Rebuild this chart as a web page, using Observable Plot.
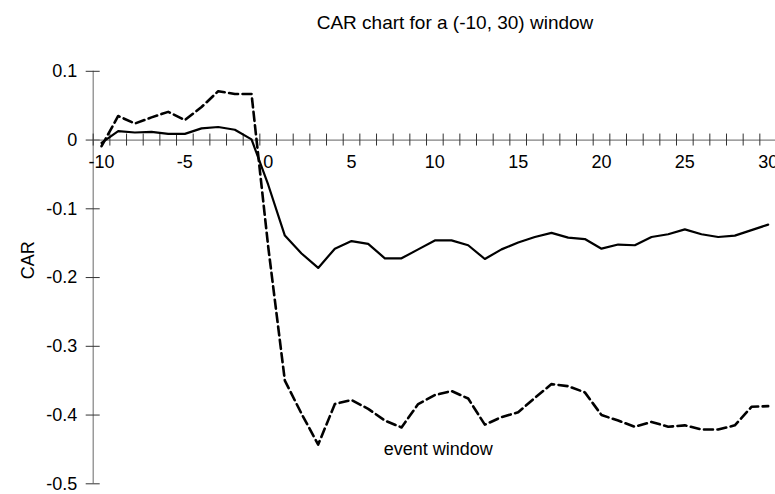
<!DOCTYPE html>
<html>
<head>
<meta charset="utf-8">
<script src="https://cdn.jsdelivr.net/npm/d3@7"></script>
<script src="https://cdn.jsdelivr.net/npm/@observablehq/plot@0.6"></script>
<style>
  html, body { margin: 0; padding: 0; background: #fff; }
  #wrap { width: 775px; height: 494px; position: relative; overflow: hidden; }
  #title { position: relative; height: 45px; }
  #title span {
    position: absolute; left: 455px; top: 12px; transform: translateX(-50%);
    font-family: "Liberation Sans Narrow", "Arial Narrow", "Liberation Sans", Arial, sans-serif;
    font-size: 19px; color: #000; white-space: nowrap;
  }
  svg { display: block; overflow: visible; }
</style>
</head>
<body>
<div id="wrap">
  <div id="title"><span>CAR chart for a (-10, 30) window</span></div>
  <div id="chart"></div>
</div>
<script>
// Event days
const days = d3.range(-10, 31);
// Solid series (CAR)
const solidCAR = [-0.004, 0.013, 0.011, 0.012, 0.009, 0.009, 0.017, 0.019, 0.015, 0.001,
  -0.065, -0.139, -0.165, -0.186, -0.158, -0.147, -0.151, -0.172, -0.172, -0.159,
  -0.146, -0.146, -0.153, -0.173, -0.159, -0.149, -0.141, -0.135, -0.142, -0.144,
  -0.158, -0.152, -0.153, -0.141, -0.137, -0.130, -0.137, -0.141, -0.139, -0.131, -0.123];
// Dashed series (CAR)
const dashedCAR = [-0.009, 0.035, 0.024, 0.033, 0.041, 0.029, 0.048, 0.071, 0.067, 0.067,
  -0.155, -0.350, -0.398, -0.443, -0.384, -0.378, -0.391, -0.408, -0.418, -0.384,
  -0.371, -0.365, -0.376, -0.414, -0.403, -0.396, -0.375, -0.355, -0.358, -0.367,
  -0.400, -0.408, -0.417, -0.410, -0.417, -0.415, -0.421, -0.421, -0.415, -0.388, -0.387];
// Axis ticks and labels
const xLabelValues = [-10, -5, 0, 5, 10, 15, 20, 25, 30];
const xLabels = ["-10", "-5", "0", "5", "10", "15", "20", "25", "30"];
const yTickValues = [0.1, 0, -0.1, -0.2, -0.3, -0.4, -0.5];
const yLabels = ["0.1", "0", "-0.1", "-0.2", "-0.3", "-0.4", "-0.5"];
const annotation = "event window";
const yTitle = "CAR";

const solidData = days.map((d, i) => ({day: d, car: solidCAR[i]}));
const dashedData = days.map((d, i) => ({day: d, car: dashedCAR[i]}));
// category boundaries (Excel-style ticks between categories)
const xTickBounds = d3.range(-10.5, 31, 1);
const xLo = -10.5, xHi = 30.5;
const xLab = xLabelValues.map((v, i) => ({v, t: xLabels[i]}));
const yLab = yTickValues.map((v, i) => ({v, t: yLabels[i]}));

const font = "'Liberation Sans', Arial, sans-serif";
const fs = 18;

const chart = Plot.plot({
  width: 775,
  height: 449,
  margin: 0,
  style: {fontFamily: font, fontSize: fs + "px", background: "transparent", overflow: "visible"},
  x: {domain: [xLo, xHi], range: [92.7, 776], axis: null},
  y: {domain: [-0.5, 0.1], range: [438.3, 25.8], axis: null},
  marks: [
    // y axis line
    Plot.ruleX([xLo], {y1: -0.5, y2: 0.1, stroke: "#808080", strokeWidth: 1.2}),
    // y ticks (crossing)
    Plot.ruleY(yTickValues, {x1: xLo, x2: xLo, insetLeft: -7, insetRight: -7, stroke: "#333", strokeWidth: 1}),
    // x axis line at 0
    Plot.ruleY([0], {x1: xLo, x2: xHi, stroke: "#808080", strokeWidth: 1.2}),
    // x ticks (crossing)
    Plot.ruleX(xTickBounds, {y1: 0, y2: 0, insetTop: -6, insetBottom: -6, stroke: "#333", strokeWidth: 1}),
    // tick labels
    Plot.text(xLab, {x: "v", y: 0, text: "t", dy: 22, fill: "#000", fontSize: fs}),
    Plot.text(yLab, {x: xLo, y: "v", text: "t", dx: -16, textAnchor: "end", fill: "#000", fontSize: fs}),
    // y title
    Plot.text([yTitle], {x: xLo, y: -0.175, dx: -65, rotate: -90, fill: "#000", fontSize: fs}),
    // series
    Plot.line(solidData, {x: "day", y: "car", stroke: "#000", strokeWidth: 2.2}),
    Plot.line(dashedData, {x: "day", y: "car", stroke: "#000", strokeWidth: 2.6, strokeDasharray: "9,4.5"}),
    // annotation
    Plot.text([annotation], {x: 10.2, y: -0.45, fill: "#000", fontSize: fs})
  ]
});
document.getElementById("chart").appendChild(chart);
</script>
</body>
</html>
